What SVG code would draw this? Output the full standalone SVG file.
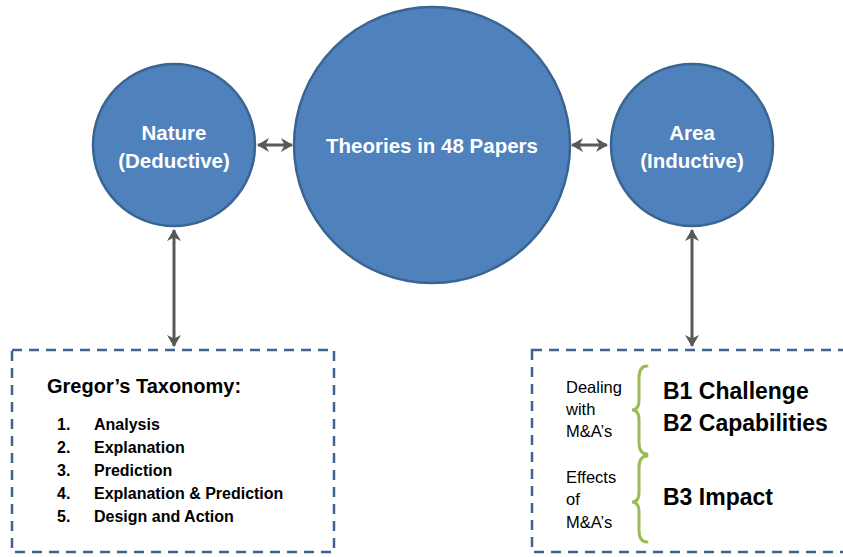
<svg xmlns="http://www.w3.org/2000/svg" width="843" height="557" viewBox="0 0 843 557">
<defs>
<style>
.circ{fill:#4F81BD;stroke:#3A6592;stroke-width:2.5}
.ct{font-family:"Liberation Sans",Arial,sans-serif;font-weight:bold;fill:#FFFFFF;text-anchor:middle;font-size:20.5px}
.conn{stroke:#595959;stroke-width:3;fill:none}
.box{fill:#FFFFFF;stroke:#3F6291;stroke-width:2.5;stroke-dasharray:10 7}
.t{font-family:"Liberation Sans",Arial,sans-serif;fill:#000000}
.b{font-weight:bold}
.brace{stroke:#9BBB59;stroke-width:3;fill:none;stroke-linecap:round}
</style>
<marker id="ah" viewBox="0 0 12 14" markerWidth="12" markerHeight="14" refX="11" refY="7" orient="auto-start-reverse" markerUnits="userSpaceOnUse">
<path d="M0,0 L12,7 L0,14 L3.5,7 Z" fill="#595959"/>
</marker>
</defs>
<g id="connectors">
<line class="conn" x1="258" y1="145" x2="292" y2="145" marker-start="url(#ah)" marker-end="url(#ah)"/>
<line class="conn" x1="572" y1="145" x2="607" y2="145" marker-start="url(#ah)" marker-end="url(#ah)"/>
<line class="conn" x1="174" y1="230" x2="174" y2="346" marker-start="url(#ah)" marker-end="url(#ah)"/>
<line class="conn" x1="692" y1="230" x2="692" y2="346" marker-start="url(#ah)" marker-end="url(#ah)"/>
</g>
<g id="nature">
<circle class="circ" cx="174" cy="145" r="81"/>
<text class="ct" x="174" y="140">Nature</text>
<text class="ct" x="174" y="168">(Deductive)</text>
</g>
<g id="theories">
<circle class="circ" cx="432" cy="145" r="138"/>
<text class="ct" x="432" y="153">Theories in 48 Papers</text>
</g>
<g id="area">
<circle class="circ" cx="692" cy="145" r="81"/>
<text class="ct" x="692" y="140">Area</text>
<text class="ct" x="692" y="168">(Inductive)</text>
</g>
<g id="gregor">
<rect class="box" x="12" y="350" width="322" height="202"/>
<text class="t b" x="47" y="393" font-size="20">Gregor’s Taxonomy:</text>
<g class="t b" font-size="16">
<text x="57" y="430">1.</text><text x="94" y="430">Analysis</text>
<text x="57" y="453">2.</text><text x="94" y="453">Explanation</text>
<text x="57" y="476">3.</text><text x="94" y="476">Prediction</text>
<text x="57" y="499">4.</text><text x="94" y="499">Explanation &amp; Prediction</text>
<text x="57" y="522">5.</text><text x="94" y="522">Design and Action</text>
</g>
</g>
<g id="categories">
<rect class="box" x="532" y="350" width="330" height="202"/>
<g class="t" font-size="16.5">
<text x="566" y="393">Dealing</text>
<text x="566" y="415">with</text>
<text x="566" y="437">M&amp;A’s</text>
<text x="566" y="483">Effects</text>
<text x="566" y="505">of</text>
<text x="566" y="528">M&amp;A’s</text>
</g>
<path class="brace" d="M647,366 Q639,366 639,378 L639,400 Q639,410 632,410 Q639,410 639,420 L639,442 Q639,454 647,454"/>
<path class="brace" d="M647,456 Q639,456 639,468 L639,492 Q639,502 632,502 Q639,502 639,512 L639,530 Q639,542 647,542"/>
<g class="t b" font-size="23">
<text x="663" y="399">B1 Challenge</text>
<text x="663" y="431">B2 Capabilities</text>
<text x="663" y="505">B3 Impact</text>
</g>
</g>
</svg>
